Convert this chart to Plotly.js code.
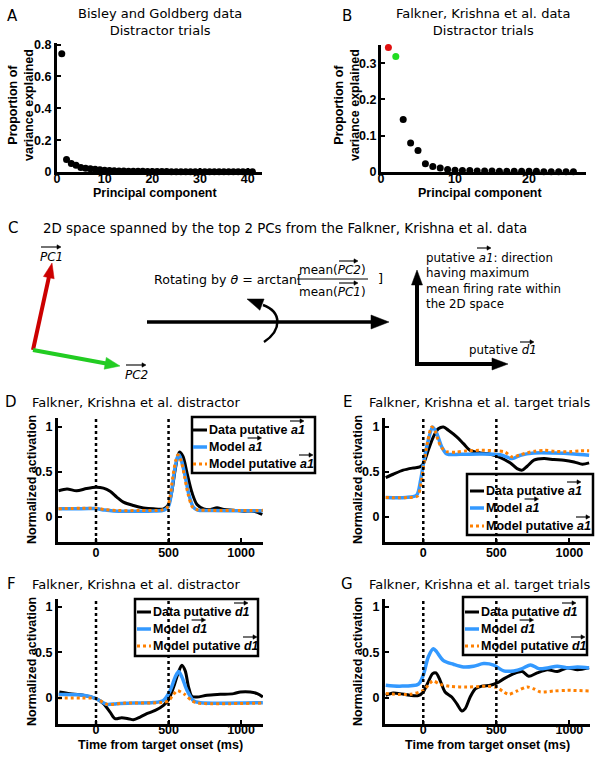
<!DOCTYPE html>
<html><head><meta charset="utf-8">
<script src="https://cdn.plot.ly/plotly-3.0.1.min.js"></script>
<style>html,body{margin:0;padding:0;background:#fff}#chart{width:604px;height:760px}</style>
</head><body><div id="chart"></div>
<script>
// ---------------- DATA ----------------
// Panel A: Bisley and Goldberg, variance explained per PC
const pcA = [1,2,3,4,5,6,7,8,9,10,11,12,13,14,15,16,17,18,19,20,21,22,23,24,25,26,27,28,29,30,31,32,33,34,35,36,37,38,39,40,41];
const varA = [0.743,0.078,0.053,0.042,0.028,0.024,0.020,0.017,0.014,0.011,0.009,0.008,0.007,0.006,0.005,0.004,0.004,0.004,0.003,0.003,0.003,0.003,0.003,0.002,0.002,0.002,0.002,0.002,0.002,0.002,0.002,0.001,0.001,0.001,0.001,0.001,0.001,0.001,0.001,0.001,0.001];
// Panel B: Falkner, Krishna et al.
const pcB = [1,2,3,4,5,6,7,8,9,10,11,12,13,14,15,16,17,18,19,20,21,22,23,24,25,26];
const varB = [0.343,0.318,0.145,0.080,0.059,0.023,0.015,0.011,0.007,0.005,0.004,0.004,0.003,0.003,0.003,0.002,0.002,0.002,0.002,0.002,0.002,0.001,0.001,0.001,0.001,0.001];

// Panel D: distractor, a1
const tD_data = [-258,-200,-134,-65,0,51,97,143,189,258,327,396,466,500,523,546,574,599,627,662,696,742,788,834,881,950,1019,1088,1146];
const vD_data = [0.29,0.31,0.29,0.315,0.33,0.32,0.285,0.22,0.163,0.126,0.10,0.089,0.089,0.137,0.285,0.526,0.72,0.674,0.49,0.267,0.137,0.089,0.081,0.10,0.081,0.074,0.063,0.063,0.026];
const tD_model = [-258,-150,-50,0,60,120,250,400,470,500,520,540,560,572,590,615,640,670,700,800,1000,1150];
const vD_model = [0.09,0.09,0.092,0.092,0.075,0.065,0.063,0.065,0.075,0.12,0.27,0.5,0.66,0.69,0.62,0.45,0.25,0.11,0.075,0.07,0.068,0.068];
const tD_put = [-258,-100,0,60,150,300,450,490,510,530,550,565,585,610,635,665,700,800,1000,1150];
const vD_put = [0.09,0.095,0.095,0.08,0.07,0.07,0.075,0.1,0.22,0.45,0.63,0.69,0.63,0.45,0.25,0.11,0.078,0.072,0.07,0.072];

// Panel E: target trials, a1
const tE_data = [-257,-206,-138,-69,-23,0,34,69,103,138,172,229,275,321,390,459,528,596,642,677,711,757,826,894,963,1032,1089,1135];
const vE_data = [0.437,0.474,0.52,0.544,0.556,0.59,0.74,0.89,0.98,1.0,0.963,0.89,0.815,0.74,0.71,0.696,0.66,0.60,0.537,0.52,0.563,0.63,0.648,0.637,0.63,0.611,0.585,0.60];
const tE_model = [-257,-120,-46,-18,5,34,64,92,126,161,252,390,528,608,665,757,894,1032,1135];
const vE_model = [0.215,0.215,0.24,0.41,0.63,0.85,1.0,0.93,0.78,0.70,0.696,0.70,0.69,0.648,0.685,0.71,0.71,0.70,0.685];
const tE_put = [-257,-100,-40,-15,5,30,58,80,100,125,160,220,300,400,500,560,610,660,760,830,900,1000,1070,1135];
const vE_put = [0.215,0.215,0.23,0.38,0.6,0.84,1.0,0.96,0.86,0.77,0.725,0.72,0.735,0.74,0.735,0.72,0.665,0.69,0.73,0.74,0.73,0.725,0.735,0.735];

// Panel F: distractor, d1
const tF_data = [-253,-180,-88,0,51,97,131,177,224,258,304,350,408,465,500,535,569,592,615,638,661,696,765,857,949,995,1064,1111,1150];
const vF_data = [0.066,0.048,0.03,-0.007,-0.062,-0.154,-0.227,-0.216,-0.227,-0.238,-0.209,-0.172,-0.136,-0.08,-0.018,0.12,0.286,0.36,0.297,0.12,0.018,0.011,0.03,0.04,0.048,0.066,0.066,0.048,0.011];
const tF_model = [-258,-88,0,74,143,258,396,465,512,546,569,592,627,673,719,1150];
const vF_model = [0.037,0.03,-0.007,-0.07,-0.062,-0.055,-0.05,-0.026,0.084,0.23,0.29,0.23,0.084,-0.033,-0.051,-0.051];
const tF_put = [-258,-100,0,80,200,450,500,530,560,610,660,700,1150];
const vF_put = [0.0,0.0,-0.007,-0.07,-0.055,-0.05,-0.03,0.03,0.08,0.04,-0.03,-0.055,-0.055];

// Panel G: target trials, d1
const tG_data = [-257,-206,-161,-92,-34,0,34,64,87,115,149,195,229,264,287,321,356,401,459,505,550,619,677,722,780,849,917,986,1055,1135];
const vG_data = [0.03,0.055,0.048,0.03,0.026,0.066,0.176,0.267,0.275,0.194,0.066,0.011,-0.062,-0.143,-0.117,0.011,0.10,0.13,0.14,0.165,0.21,0.267,0.29,0.238,0.275,0.31,0.29,0.33,0.31,0.33];
const tG_model = [-257,-161,-34,0,34,69,92,138,206,275,344,413,482,550,619,677,734,791,849,917,986,1055,1135];
const vG_model = [0.14,0.13,0.15,0.25,0.45,0.54,0.505,0.41,0.37,0.34,0.348,0.377,0.36,0.297,0.297,0.322,0.363,0.322,0.33,0.348,0.33,0.34,0.33];
const tG_put = [-257,-92,0,46,69,115,183,298,436,505,550,585,642,711,757,803,894,986,1135];
const vG_put = [0.048,0.04,0.084,0.165,0.187,0.15,0.128,0.12,0.128,0.114,0.066,0.04,0.077,0.12,0.10,0.066,0.077,0.084,0.077];

const onsetMarks = [0, 500];
const xTicks = [0, 500, 1000];
const yTicks = [0, 0.5, 1];
const yTickText = ['0', '0.5', '1'];

// ---------------- STYLE / HELPERS ----------------
const W = 604, H = 760;
const px = x => x / W;
const py = y => 1 - y / H;
const SANS = 'DejaVu Sans, Verdana, sans-serif';
const BOLD = 'Liberation Sans, Arial, sans-serif';
const BLUE = '#3399ff', ORANGE = '#ff8000';

function axis(d0, d1, range, anchor, tickvals, ticktext, standoff) {
  return {domain: [d0, d1], range, anchor, tickvals, ticktext: ticktext.map(t => '<b>' + t + '</b>'),
    showline: true, linewidth: 3, linecolor: '#000', mirror: false,
    ticks: 'inside', ticklen: 4, tickwidth: 2, tickcolor: '#000', ticklabelstandoff: standoff,
    showgrid: false, zeroline: false, fixedrange: true,
    tickfont: {family: BOLD, size: 12.5, weight: 'bold', color: '#000'}};
}
function ann(text, x, y, o = {}) {
  return {text, x: px(x), y: py(y), xref: 'paper', yref: 'paper', showarrow: false,
    xanchor: o.xa || 'left', yanchor: o.ya || 'middle', align: o.align || 'left',
    textangle: o.angle || 0,
    font: {family: o.bold ? BOLD : SANS, size: o.size || 13, color: '#000', weight: o.bold ? 'bold' : 'normal'}};
}
function head(x0, y0, x1, y1, color, hl, hw) {
  const L = Math.hypot(x1 - x0, y1 - y0), ux = (x1 - x0) / L, uy = (y1 - y0) / L;
  const bx = x1 - ux * hl, by = y1 - uy * hl, nx = -uy, ny = ux;
  return {type: 'path', xref: 'paper', yref: 'paper',
    path: `M ${px(x1)},${py(y1)} L ${px(bx + nx * hw)},${py(by + ny * hw)} L ${px(bx - nx * hw)},${py(by - ny * hw)} Z`,
    fillcolor: color, line: {color, width: 0.5}};
}
function arrow(x0, y0, x1, y1, color, w, hl, hw) {
  const L = Math.hypot(x1 - x0, y1 - y0), ux = (x1 - x0) / L, uy = (y1 - y0) / L;
  const ex = x1 - ux * (hl - 1), ey = y1 - uy * (hl - 1);
  return [{type: 'line', xref: 'paper', yref: 'paper', x0: px(x0), y0: py(y0), x1: px(ex), y1: py(ey),
    line: {color, width: w}}, head(x0, y0, x1, y1, color, hl, hw)];
}
function vec(xa, xb, y) { return arrow(xa, y, xb, y, '#000', 1.1, 4, 2.2); }

// ---------------- TRACES ----------------
const traces = [];
traces.push({x: pcA, y: varA, xaxis: 'x', yaxis: 'y', mode: 'markers', cliponaxis: false,
  marker: {size: 7, color: '#000'}, showlegend: false, hoverinfo: 'skip'});
traces.push({x: pcB, y: varB, xaxis: 'x2', yaxis: 'y2', mode: 'markers', cliponaxis: false,
  marker: {size: 7, color: pcB.map((p, i) => i === 0 ? '#e01010' : i === 1 ? '#22dd22' : '#000')},
  showlegend: false, hoverinfo: 'skip'});

function lines(xa, ya, sets) {
  sets.forEach(([t, v, style]) => traces.push({x: t, y: v, xaxis: xa, yaxis: ya, mode: 'lines',
    line: Object.assign({shape: 'spline', smoothing: 0.8}, style), showlegend: false, hoverinfo: 'skip'}));
}
const sData = {color: '#000', width: 3};
const sModel = {color: BLUE, width: 3.5};
const sPut = {color: ORANGE, width: 3, dash: 'dot'};
lines('x3', 'y3', [[tD_data, vD_data, sData], [tD_model, vD_model, sModel], [tD_put, vD_put, sPut]]);
lines('x4', 'y4', [[tE_data, vE_data, sData], [tE_model, vE_model, sModel], [tE_put, vE_put, sPut]]);
lines('x5', 'y5', [[tF_data, vF_data, sData], [tF_model, vF_model, sModel], [tF_put, vF_put, sPut]]);
lines('x6', 'y6', [[tG_data, vG_data, sData], [tG_model, vG_model, sModel], [tG_put, vG_put, sPut]]);

// ---------------- LAYOUT ----------------
const rangeL = [-262, 1151], rangeR = [-262, 1141];
const yRangeTop = [-0.28, 1.1], yRangeBot = [-0.285, 1.085];
const layout = {
  width: W, height: H, margin: {l: 0, r: 0, t: 0, b: 0},
  paper_bgcolor: '#fff', plot_bgcolor: 'rgba(0,0,0,0)', showlegend: false,
  xaxis: axis(px(57), px(262), [0, 43], 'y', [0, 10, 20, 30, 40], ['0', '10', '20', '30', '40'], -7),
  yaxis: axis(py(172), py(43), [0, 0.81], 'x', [0, 0.2, 0.4, 0.6, 0.8], ['0', '0.2', '0.4', '0.6', '0.8'], 0),
  xaxis2: axis(px(381), px(586), [0, 27.7], 'y2', [0, 10, 20], ['0', '10', '20'], -7),
  yaxis2: axis(py(172), py(45), [0, 0.35], 'x2', [0, 0.1, 0.2, 0.3], ['0', '0.1', '0.2', '0.3'], -1),
  xaxis3: axis(px(58), px(263), rangeL, 'y3', xTicks, xTicks.map(String), -3),
  yaxis3: axis(py(542), py(418), yRangeTop, 'x3', yTicks, yTickText, 0),
  xaxis4: axis(px(385), px(590), rangeR, 'y4', xTicks, xTicks.map(String), -3),
  yaxis4: axis(py(542), py(418), yRangeTop, 'x4', yTicks, yTickText, 0),
  xaxis5: axis(px(58), px(263), rangeL, 'y5', xTicks, xTicks.map(String), -8),
  yaxis5: axis(py(724), py(599), yRangeBot, 'x5', yTicks, yTickText, 0),
  xaxis6: axis(px(385), px(590), rangeR, 'y6', xTicks, xTicks.map(String), -8),
  yaxis6: axis(py(724), py(599), yRangeBot, 'x6', yTicks, yTickText, 0),
  shapes: [], annotations: []
};
const S = layout.shapes, A = layout.annotations;

// dotted onset lines
['3', '4', '5', '6'].forEach(k => onsetMarks.forEach(m => S.push({type: 'line', xref: 'x' + k, yref: 'y' + k + ' domain',
  x0: m, x1: m, y0: 0, y1: 1, layer: 'above', line: {color: '#000', width: 2.5, dash: 'dot'}})));

// custom legends
function legend(bx0, by0, bx1, by1, sx, rows, vecName) {
  S.push({type: 'rect', xref: 'paper', yref: 'paper', x0: px(bx0), x1: px(bx1), y0: py(by1), y1: py(by0),
    layer: 'below', fillcolor: '#fff', line: {color: '#000', width: 2.5}});
  const styles = [sData, sModel, sPut];
  const pre = ['Data putative ', 'Model ', 'Model putative '];
  const preW = [82, 39.6, 91];
  rows.forEach((ry, i) => {
    const st = styles[i];
    S.push({type: 'line', xref: 'paper', yref: 'paper', x0: px(sx), x1: px(sx + 14), y0: py(ry), y1: py(ry),
      line: {color: st.color, width: st.width, dash: st.dash || 'solid'}});
    A.push(ann(pre[i] + '<i>' + vecName + '</i>', sx + 14, ry, {bold: true, size: 12.5}));
    vec(sx + 15 + preW[i], sx + 15 + preW[i] + 14, ry - 9).forEach(s => S.push(s));
  });
}
legend(192, 417, 315, 473, 193, [430, 447, 464], 'a1');
legend(467, 474, 593, 535, 470, [491, 508, 526], 'a1');
legend(135, 599, 258, 656, 137, [612, 629, 646], 'd1');
legend(463, 597, 587, 655, 465, [612, 629, 646], 'd1');

// panel letters
[['A', 12, 16], ['B', 347, 16], ['C', 13, 228], ['D', 11, 402], ['E', 347, 402], ['F', 11, 584], ['G', 347, 584]]
  .forEach(([t, x, y]) => A.push(ann(t, x, y, {size: 15, xa: 'center'})));

// titles
A.push(ann('Bisley and Goldberg data<br>Distractor trials', 160, 22, {xa: 'center', align: 'center'}));
A.push(ann('Falkner, Krishna et al. data<br>Distractor trials', 483, 22, {xa: 'center', align: 'center'}));
A.push(ann('Falkner, Krishna et al. distractor', 30, 402));
A.push(ann('Falkner, Krishna et al. target trials', 367, 402));
A.push(ann('Falkner, Krishna et al. distractor', 30, 584));
A.push(ann('Falkner, Krishna et al. target trials', 367, 584));

// axis titles
A.push(ann('Principal component', 155, 193, {bold: true, size: 12.5, xa: 'center'}));
A.push(ann('Principal component', 480, 193, {bold: true, size: 12.5, xa: 'center'}));
A.push(ann('Proportion of<br>variance explained', 21, 105, {bold: true, size: 12.5, xa: 'center', align: 'center', angle: -90}));
A.push(ann('Proportion of<br>variance explained', 347, 105, {bold: true, size: 12.5, xa: 'center', align: 'center', angle: -90}));
[[32, 480], [358, 480], [32, 662], [358, 662]].forEach(([x, y]) =>
  A.push(ann('Normalized activation', x, y, {bold: true, size: 12.5, xa: 'center', angle: -90})));
A.push(ann('Time from target onset (ms)', 160.5, 745, {bold: true, size: 12.5, xa: 'center'}));
A.push(ann('Time from target onset (ms)', 487.5, 745, {bold: true, size: 12.5, xa: 'center'}));

// ---------------- PANEL C diagram ----------------
A.push(ann('2D space spanned by the top 2 PCs from the Falkner, Krishna et al. data', 41, 228, {size: 13.4}));
arrow(33, 350, 52, 263, '#cc0000', 4, 15, 5.5).forEach(s => S.push(s));
arrow(33, 350, 120, 366, '#22cc22', 4, 15, 6).forEach(s => S.push(s));
A.push(ann('<i>PC1</i>', 51, 257, {size: 12, xa: 'center'}));
vec(41, 61, 247).forEach(s => S.push(s));
A.push(ann('<i>PC2</i>', 136, 375, {size: 12, xa: 'center'}));
vec(126, 146, 365).forEach(s => S.push(s));

arrow(147, 322, 389, 322, '#000', 3.5, 18, 7).forEach(s => S.push(s));
S.push({type: 'path', xref: 'paper', yref: 'paper', layer: 'above',
  path: `M ${px(264)},${py(342)} C ${px(282)},${py(330)} ${px(282)},${py(312)} ${px(263)},${py(305)}`,
  fillcolor: 'rgba(0,0,0,0)', line: {color: '#000', width: 2.5}});
S.push(head(263, 305, 247, 299, '#000', 16, 6));

A.push(ann('Rotating by <i>θ</i> = arctan[', 152, 279, {size: 12.6}));
A.push(ann('mean(<i>PC2</i>)', 332, 270, {size: 12, xa: 'center'}));
A.push(ann('mean(<i>PC1</i>)', 332, 292, {size: 12, xa: 'center'}));
vec(339, 358, 261).forEach(s => S.push(s));
vec(339, 358, 283).forEach(s => S.push(s));
S.push({type: 'line', xref: 'paper', yref: 'paper', x0: px(297), x1: px(368), y0: py(279), y1: py(279), line: {color: '#000', width: 1}});
A.push(ann(']', 381, 278, {size: 13, xa: 'center'}));

arrow(417, 366, 417, 270, '#000', 4, 15, 5.5).forEach(s => S.push(s));
arrow(415, 364, 508, 364, '#000', 4, 16, 6).forEach(s => S.push(s));
A.push(ann('putative <i>a1</i>: direction<br>having maximum<br>mean firing rate within<br>the 2D space', 424, 249, {size: 11.8, ya: 'top'}));
vec(477, 491, 248).forEach(s => S.push(s));
A.push(ann('putative <i>d1</i>', 467, 350, {size: 11.8}));
vec(520, 534, 342).forEach(s => S.push(s));

Plotly.newPlot('chart', traces, layout, {displayModeBar: false, staticPlot: true});
</script></body></html>
